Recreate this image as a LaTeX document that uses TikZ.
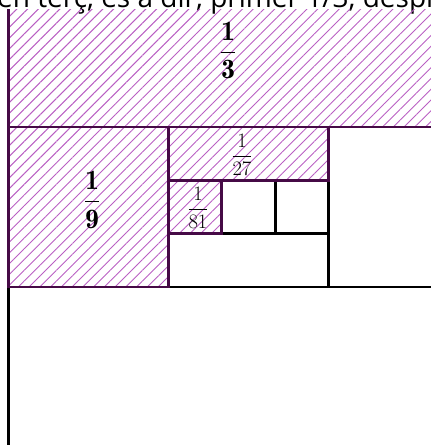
\RequirePackage{fix-cm}
\documentclass[tikz,border=0pt]{standalone}
\usepackage{amsmath}
\usepackage{amssymb}
\usepackage{xcolor}
\usepackage{fontspec}
\newfontfamily\topfont{Open Sans}
\usepackage{tikz}
\usetikzlibrary{patterns.meta}
\definecolor{hatchpurple}{RGB}{185,95,195}
\definecolor{edgepurple}{RGB}{70,10,70}
\tikzstyle{emptybox} = [draw=black, line width=2.8pt]
\tikzstyle{hatchbox} = [draw=edgepurple, line width=2.8pt, pattern={Lines[angle=45, distance=7.6pt, line width=1pt]}, pattern color=hatchpurple]
\tikzstyle{bigfrac} = [inner sep=0pt, font=\fontsize{28}{33}\selectfont]
\tikzstyle{smallfrac} = [inner sep=0pt, font=\fontsize{20.5}{25}\selectfont]

\begin{document}
\begin{tikzpicture}[x=1pt, y=1pt]
    \useasboundingbox (0,0) rectangle (431,445);
    \clip (0,0) rectangle (431,445);

    % Caption line, cut off at the top
    \node (caption) [anchor=base west, inner sep=0pt, font=\topfont\fontsize{28}{33}\selectfont] at (-3,437) {en terç, es a dir, primer 1/3, despr};

    \begin{scope}[shift={(8.5,-2)}]
        % the square is cut just below the caption
        \clip (-10,-10) rectangle (500,437);

        % Empty pieces
        \draw [emptybox] (0,0) rectangle (480,160);
        \draw [emptybox] (320,160) rectangle (480,320);
        \draw [emptybox] (160,160) rectangle (320,213.33);
        \draw [emptybox] (213.33,213.33) rectangle (266.67,266.67);
        \draw [emptybox] (266.67,213.33) rectangle (320,266.67);

        % Hatched pieces
        \draw [hatchbox] (0,320) rectangle (480,480);
        \draw [hatchbox] (0,160) rectangle (160,320);
        \draw [hatchbox] (160,266.67) rectangle (320,320);
        \draw [hatchbox] (160,213.33) rectangle (213.33,266.67);

        % Labels
        \node (third) [bigfrac] at (219.5,396.5) {$\mathbf{\dfrac{1}{3}}$};
        \node (ninth) [bigfrac] at (83.5,247) {$\mathbf{\dfrac{1}{9}}$};
        \node (twentyseventh) [smallfrac] at (233.5,292) {$\dfrac{1}{27}$};
        \node (eightyfirst) [smallfrac] at (189.5,239) {$\dfrac{1}{81}$};
    \end{scope}
\end{tikzpicture}
\end{document}
